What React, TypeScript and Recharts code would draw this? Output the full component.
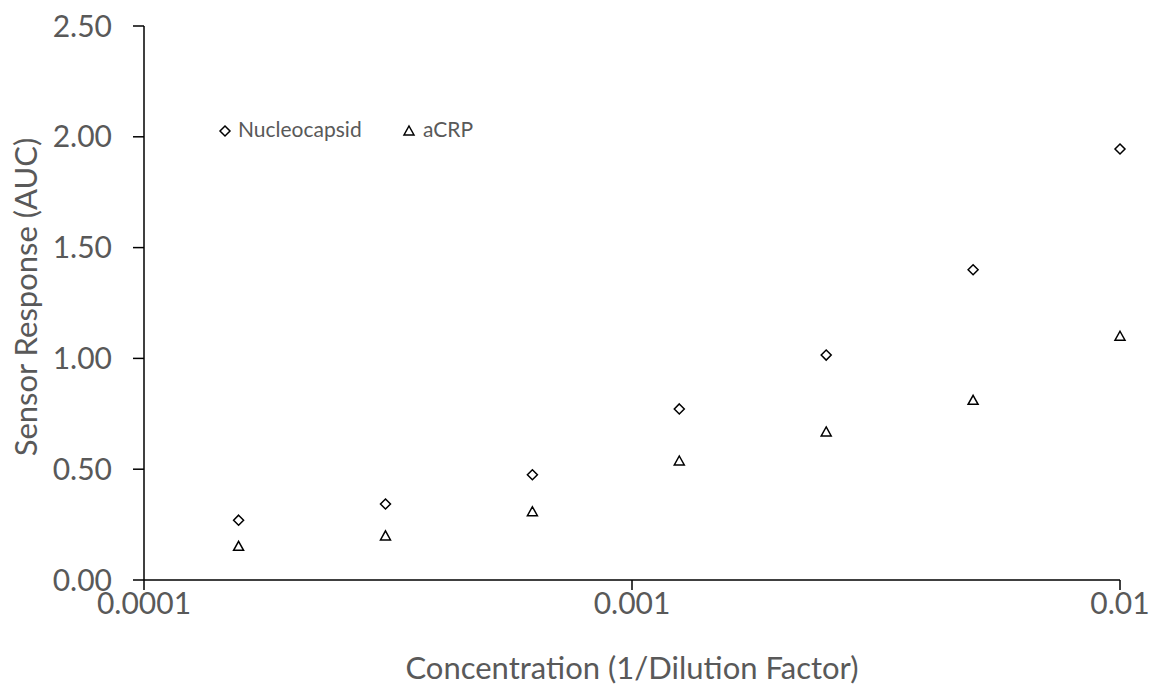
import { ScatterChart, Scatter, XAxis, YAxis, Label } from "recharts";

const concentrations = [0.00015625, 0.0003125, 0.000625, 0.00125, 0.0025, 0.005, 0.01];
const nucleocapsid = [0.27, 0.343, 0.475, 0.772, 1.015, 1.4, 1.945];
const acrp = [0.152, 0.199, 0.308, 0.537, 0.668, 0.811, 1.1];
const xTicks = [0.0001, 0.001, 0.01];
const yTicks = [0, 0.5, 1, 1.5, 2, 2.5];
const seriesNames = ["Nucleocapsid", "aCRP"];

const nucData = concentrations.map((x, i) => ({ x, y: nucleocapsid[i] }));
const acrpData = concentrations.map((x, i) => ({ x, y: acrp[i] }));

const FONT = "Lato, 'Open Sans', sans-serif";
const GRAY = "#595959";

function Diamond({ cx, cy }: any) {
  const r = 5;
  return (
    <path
      d={`M${cx},${cy - r} L${cx + r},${cy} L${cx},${cy + r} L${cx - r},${cy} Z`}
      fill="#fff"
      stroke="#000"
      strokeWidth={1.5}
    />
  );
}

function Triangle({ cx, cy }: any) {
  const r = 5;
  return (
    <path
      d={`M${cx},${cy - r} L${cx + r},${cy + r - 1} L${cx - r},${cy + r - 1} Z`}
      fill="#fff"
      stroke="#000"
      strokeWidth={1.5}
    />
  );
}

// legend drawn on top, Excel style inside the plot
function LegendOverlay() {
  const shapes = [Diamond, Triangle];
  const markX = [7, 191];
  const textX = [20, 205];
  return (
    <svg
      width={320}
      height={26}
      style={{ position: "absolute", left: 218, top: 118, overflow: "visible" }}
    >
      {seriesNames.map((name, i) => {
        const Shape = shapes[i];
        return (
          <g key={name}>
            <Shape cx={markX[i]} cy={13} />
            <text x={textX[i]} y={19} fontSize={21} fill={GRAY} fontFamily={FONT}>
              {name}
            </text>
          </g>
        );
      })}
    </svg>
  );
}

const fmtX = (v: number) => String(v);
const fmtY = (v: number) => v.toFixed(2);

export default function App() {
  return (
    <div style={{ position: "absolute", left: 0, top: 0, width: 1157, height: 689, background: "#fff" }}>
      <ScatterChart width={1157} height={689} margin={{ top: 26, right: 37, bottom: 0, left: 0 }}>
        <XAxis
          dataKey="x"
          type="number"
          scale="log"
          domain={[0.0001, 0.01]}
          ticks={xTicks}
          tickFormatter={fmtX}
          height={109}
          stroke="#000"
          strokeWidth={1.5}
          tickSize={10}
          tick={{ fill: GRAY, fontSize: 30, fontFamily: FONT }}
          tickMargin={3}
        >
          <Label
            value="Concentration (1/Dilution Factor)"
            position="insideBottom"
            offset={10}
            fill={GRAY}
            fontSize={31}
            fontFamily={FONT}
          />
        </XAxis>
        <YAxis
          dataKey="y"
          type="number"
          domain={[0, 2.5]}
          ticks={yTicks}
          tickFormatter={fmtY}
          width={144}
          stroke="#000"
          strokeWidth={1.5}
          tickSize={11}
          tick={{ fill: GRAY, fontSize: 30, fontFamily: FONT }}
          tickMargin={21}
        >
          <Label
            value="Sensor Response (AUC)"
            angle={-90}
            position="insideLeft"
            offset={26}
            dy={-6}
            style={{ textAnchor: "middle" }}
            fill={GRAY}
            fontSize={31}
            fontFamily={FONT}
          />
        </YAxis>
        <Scatter name={seriesNames[0]} data={nucData} shape={<Diamond />} isAnimationActive={false} />
        <Scatter name={seriesNames[1]} data={acrpData} shape={<Triangle />} isAnimationActive={false} />
      </ScatterChart>
      <LegendOverlay />
    </div>
  );
}
